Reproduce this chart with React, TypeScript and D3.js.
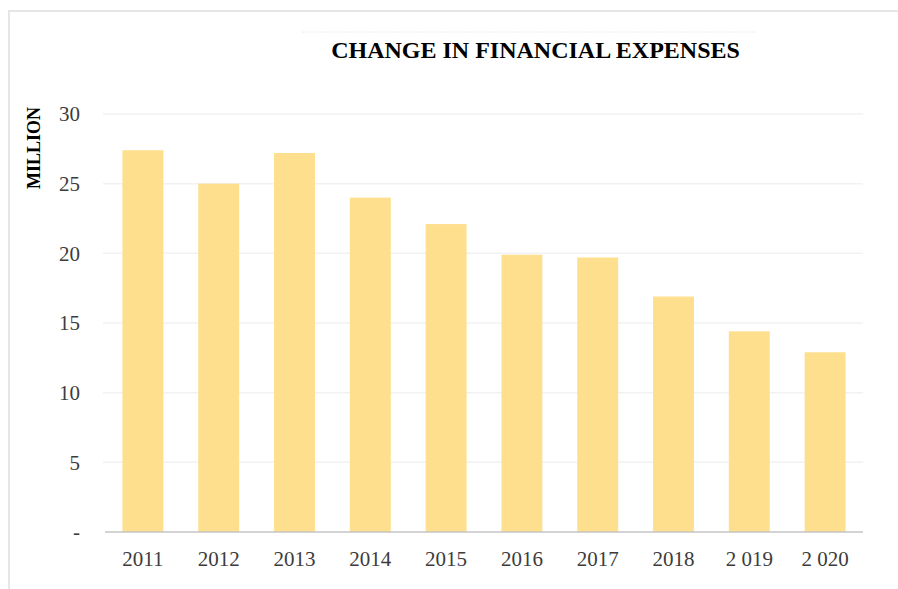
import React from "react";
import * as d3 from "d3";

const categories = ["2011", "2012", "2013", "2014", "2015", "2016", "2017", "2018", "2 019", "2 020"];
const values = [27.4, 25.0, 27.2, 24.0, 22.1, 19.9, 19.7, 16.9, 14.4, 12.9];
const yTicks = [0, 5, 10, 15, 20, 25, 30];
const yTickLabels = ["-", "5", "10", "15", "20", "25", "30"];
const title = "CHANGE IN FINANCIAL EXPENSES";
const yTitle = "MILLION";

export default function App() {
  const W = 898, H = 589;
  const x = d3.scaleBand<string>().domain(categories).range([105, 863]).paddingInner(0.46).paddingOuter(0.23);
  const y = d3.scaleLinear().domain([0, 30]).range([532, 114]);
  const font = "'Liberation Serif', 'Times New Roman', serif";
  return (
    <svg width={W} height={H} style={{ position: "absolute", left: 0, top: 0, background: "#fff" }}>
      <rect x={9} y={11} width={W + 20} height={H + 20} fill="none" stroke="#e6e6e6" strokeWidth={2} />
      <line x1={302} x2={756} y1={32} y2={32} stroke="#ececec" strokeWidth={1} strokeDasharray="2,1" />
      <text x={535.5} y={57.5} textAnchor="middle" fontFamily={font} fontWeight="bold" fontSize={24} fill="#000">{title}</text>
      <text transform="translate(40,148) rotate(-90)" textAnchor="middle" fontFamily={font} fontWeight="bold" fontSize={18} fill="#000">{yTitle}</text>
      {yTicks.filter(t => t > 0).map(t => (
        <line key={"g" + t} x1={103} x2={863} y1={y(t)} y2={y(t)} stroke="#f2f2f2" strokeWidth={1.5} />
      ))}
      {yTicks.map((t, i) => (
        <text key={"t" + t} x={80} y={y(t)} dy="0.35em" textAnchor="end" fontFamily={font} fontSize={21} fill="#3c3c3c">{yTickLabels[i]}</text>
      ))}
      {categories.map((c, i) => (
        <rect key={c} x={x(c)} y={y(values[i])} width={x.bandwidth()} height={y(0) - y(values[i])} fill="#FEDF8D" />
      ))}
      <line x1={105} x2={863} y1={y(0)} y2={y(0)} stroke="#c4c4c4" strokeWidth={1.5} />
      {categories.map(c => (
        <text key={"x" + c} x={(x(c) as number) + x.bandwidth() / 2} y={559} dy="0.35em" textAnchor="middle" fontFamily={font} fontSize={21} fill="#3c3c3c">{c}</text>
      ))}
    </svg>
  );
}
